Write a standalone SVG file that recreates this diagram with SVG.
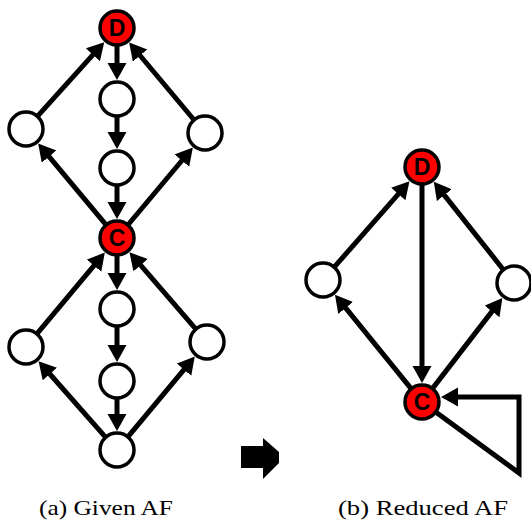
<svg xmlns="http://www.w3.org/2000/svg" width="531" height="524" viewBox="0 0 531 524">
<style>
.node{fill:#fff;stroke:#000;stroke-width:3.5}
.red{fill:#ff0000;stroke:#000;stroke-width:3.5}
.lbl{font-family:"Liberation Sans",Arial,sans-serif;font-weight:bold;font-size:23px;fill:#000;text-anchor:middle}
.e{stroke:#000;stroke-width:5;fill:none;marker-end:url(#ah)}
.cap{font-family:"Liberation Serif","Times New Roman",serif;font-size:22px;fill:#000}
</style>
<defs>
<marker id="ah" markerUnits="userSpaceOnUse" markerWidth="18" markerHeight="20" refX="2" refY="9.5" orient="auto">
<path d="M0,0 L17,9.5 L0,19 z" fill="#000"/>
</marker>
</defs>
<g id="connectors">
<line class="e" x1="37.4" y1="116.4" x2="94.2" y2="53.3"/>
<line class="e" x1="194.1" y1="120" x2="138.8" y2="54"/>
<line class="e" x1="117" y1="45" x2="117" y2="65"/>
<line class="e" x1="117" y1="116" x2="117" y2="134"/>
<line class="e" x1="117" y1="185" x2="117" y2="204"/>
<line class="e" x1="106.1" y1="224.9" x2="47.8" y2="155.1"/>
<line class="e" x1="127.9" y1="225" x2="183.2" y2="159"/>
<line class="e" x1="36.9" y1="333.9" x2="95.2" y2="264.1"/>
<line class="e" x1="195.9" y1="329.1" x2="139.3" y2="263.7"/>
<line class="e" x1="117" y1="255" x2="117" y2="275"/>
<line class="e" x1="117" y1="326" x2="117" y2="347"/>
<line class="e" x1="117" y1="398" x2="117" y2="416"/>
<line class="e" x1="105.7" y1="437.3" x2="48.5" y2="372.5"/>
<line class="e" x1="127.9" y1="436.9" x2="185.2" y2="368.1"/>
<line class="e" x1="334.2" y1="267.2" x2="399.6" y2="192.6"/>
<line class="e" x1="503.4" y1="269.7" x2="443.1" y2="193.6"/>
<line class="e" x1="422" y1="184" x2="422" y2="368"/>
<line class="e" x1="411.3" y1="388.8" x2="344.4" y2="306.4"/>
<line class="e" x1="432.4" y1="388.6" x2="493.2" y2="309.9"/>
<path class="e" d="M435.7,412 L519,473 L519,397 L456,397" stroke-linejoin="miter"/>
</g>
<g id="D1"><circle class="red" cx="117" cy="28" r="17"/><text class="lbl" x="117" y="36">D</text></g>
<g id="n1"><circle class="node" cx="117" cy="99" r="17"/></g>
<g id="n2"><circle class="node" cx="117" cy="168" r="17"/></g>
<g id="l1"><circle class="node" cx="26" cy="129" r="17"/></g>
<g id="r1"><circle class="node" cx="205" cy="133" r="17"/></g>
<g id="C1"><circle class="red" cx="117" cy="238" r="17"/><text class="lbl" x="117" y="246">C</text></g>
<g id="n3"><circle class="node" cx="117" cy="309" r="17"/></g>
<g id="n4"><circle class="node" cx="117" cy="381" r="17"/></g>
<g id="l2"><circle class="node" cx="26" cy="347" r="17"/></g>
<g id="r2"><circle class="node" cx="207" cy="342" r="17"/></g>
<g id="b1"><circle class="node" cx="117" cy="450" r="17"/></g>
<g id="D2"><circle class="red" cx="422" cy="167" r="17"/><text class="lbl" x="422" y="175">D</text></g>
<g id="l3"><circle class="node" cx="323" cy="280" r="17"/></g>
<g id="r3"><circle class="node" cx="514" cy="283" r="17"/></g>
<g id="C2"><circle class="red" cx="422" cy="402" r="17"/><text class="lbl" x="422" y="410">C</text></g>
<g id="bigarrow"><polygon points="241,446 263,446 263,438 279,452 279,463 263,479 263,468 241,468" fill="#000"/></g>
<g id="captions">
<text class="cap" x="39" y="515" textLength="134" lengthAdjust="spacingAndGlyphs">(a) Given AF</text>
<text class="cap" x="338" y="515" textLength="170" lengthAdjust="spacingAndGlyphs">(b) Reduced AF</text>
</g>
</svg>
